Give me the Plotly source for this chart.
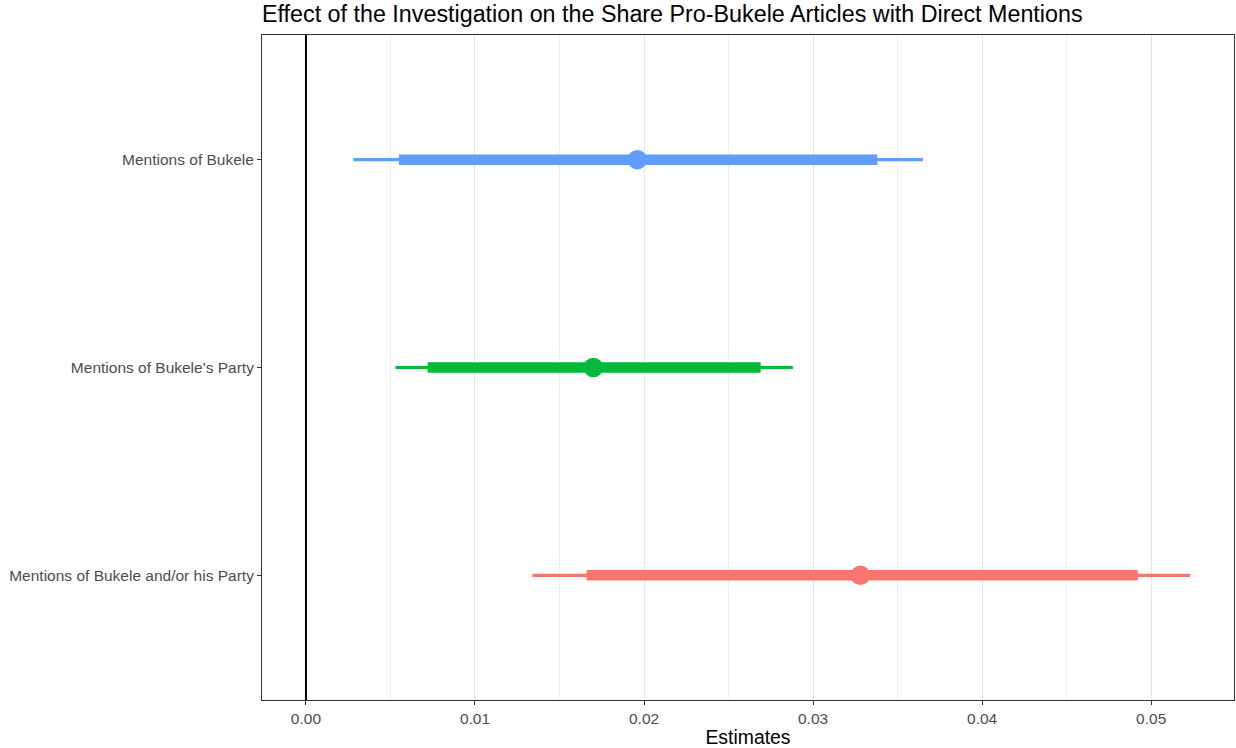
import plotly.graph_objects as go

categories = ["Mentions of Bukele and/or his Party", "Mentions of Bukele's Party", "Mentions of Bukele"]
estimates = [0.0328, 0.0170, 0.0196]
ci90_low = [0.0166, 0.0072, 0.0055]
ci90_high = [0.0492, 0.0269, 0.0338]
ci95_low = [0.0134, 0.0053, 0.0028]
ci95_high = [0.0523, 0.0288, 0.0365]
colors = ["#F8766D", "#00BA38", "#619CFF"]
x_ticks = [0.00, 0.01, 0.02, 0.03, 0.04, 0.05]
x_tick_labels = ["0.00", "0.01", "0.02", "0.03", "0.04", "0.05"]

fig = go.Figure()

for i, cat in enumerate(categories):
    fig.add_trace(go.Scatter(x=[ci95_low[i], ci95_high[i]], y=[cat, cat], mode="lines",
                             line=dict(color=colors[i], width=3.2), showlegend=False, hoverinfo="skip"))
    fig.add_trace(go.Scatter(x=[ci90_low[i], ci90_high[i]], y=[cat, cat], mode="lines",
                             line=dict(color=colors[i], width=10.5), showlegend=False, hoverinfo="skip"))
    fig.add_trace(go.Scatter(x=[estimates[i]], y=[cat], mode="markers",
                             marker=dict(color=colors[i], size=19.5, line=dict(width=0)), showlegend=False))

fig.add_vline(x=0, line=dict(color="black", width=2))

fig.update_layout(
    width=1236, height=748,
    margin=dict(l=262, r=2, t=35, b=48),
    paper_bgcolor="white", plot_bgcolor="white",
    font=dict(family="Liberation Sans, Arial, sans-serif"),
    title=dict(text="Effect of the Investigation on the Share Pro-Bukele Articles with Direct Mentions",
               x=0, xref="paper", xanchor="left", y=1 - 14 / 748, yref="container", yanchor="middle",
               font=dict(size=23.3, color="black")),
    xaxis=dict(range=[-0.0026, 0.0549], tickvals=x_ticks, ticktext=x_tick_labels,
               showgrid=True, gridcolor="#E6E6E6", gridwidth=1.3,
               minor=dict(dtick=0.005, tick0=0.005, showgrid=True, gridcolor="#EEEEEE", gridwidth=1),
               zeroline=False, showline=True, linecolor="#333333", linewidth=1, mirror=True,
               ticks="outside", ticklen=4, tickcolor="#333333", tickwidth=1,
               tickfont=dict(size=15.5, color="#4D4D4D"),
               title=dict(text="Estimates", font=dict(size=19.4, color="black"), standoff=4)),
    yaxis=dict(type="category", categoryorder="array", categoryarray=categories, range=[-0.6, 2.6],
               showgrid=False, zeroline=False, showline=True, linecolor="#333333", linewidth=1, mirror=True,
               ticks="outside", ticklen=4, tickcolor="#333333", tickwidth=1,
               tickfont=dict(size=15.5, color="#4D4D4D")),
)

fig.write_html("out.html", config={"displayModeBar": False},
               post_script="document.body.style.margin='0';document.body.style.overflow='hidden';")
